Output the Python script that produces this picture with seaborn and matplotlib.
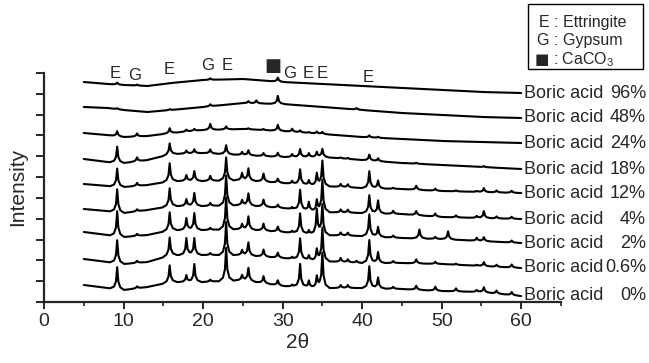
import numpy as np
import pandas as pd
import seaborn as sns
import matplotlib.pyplot as plt
from matplotlib.patches import Rectangle

# muestras (de arriba a abajo)
samples = ['96%', '48%', '24%', '18%', '12%', '4%', '2%', '0.6%', '0%']

bg_theta = [5, 8, 10, 13, 16, 20, 25, 30, 35, 40, 45, 50, 55, 60]
bg_96 = [220, 218, 217, 216, 219, 222, 223, 220, 218, 216, 214, 212, 210, 209]
bg_48 = [195, 194, 192, 190, 192, 195, 199, 198, 195, 192, 189, 187, 185, 184]
bg_24 = [169, 167, 165, 166, 169, 172, 173, 171, 168, 165, 163, 161, 160, 159]
bg_18 = [143, 140, 139, 142, 148, 149, 147, 145, 145, 142, 139, 137, 135, 133]
bg_12 = [118, 116, 115, 117, 121, 121, 122, 119, 116, 114, 113, 111, 110, 109]
bg_4 = [93, 91, 89, 92, 96, 96, 97, 94, 90, 89, 88, 85, 84, 83]
bg_2 = [70, 67, 65, 67, 72, 72, 73, 70, 67, 66, 64, 63, 61, 59]
bg_06 = [43, 40, 38, 40, 47, 47, 47, 44, 41, 39, 39, 38, 36, 34]
bg_0 = [17, 14, 12, 15, 20, 20, 22, 16, 14, 14, 13, 11, 10, 6]

# posiciones de picos y alturas sobre el fondo
peak_theta = [9.2, 11.7, 15.8, 17.9, 18.9, 20.9, 22.9, 24.9, 25.7, 26.7, 27.6,
              29.4, 31.2, 32.2, 33.3, 34.3, 35.0, 37.3, 38.2, 39.3, 40.9, 42.0,
              43.9, 46.8, 47.2, 49.2, 50.8, 51.8, 54.4, 55.3, 56.9, 58.8]
pk_96 = [2, 1, 0, 0, 0, 1.5, 0, 0, 0, 0, 0, 4, 0, 0, 0, 0, 0, 0, 0, 0, 0, 0,
         0, 0, 0, 0, 0, 0, 0, 0, 0, 0]
pk_48 = [1, 0, 1, 0, 0, 2, 0, 0, 2, 3, 0, 8, 0, 0, 0, 0, 0, 0, 0, 1.5, 0, 0,
         0, 0, 0, 0, 0, 0, 0, 0, 0, 0]
pk_24 = [5, 3, 5, 2, 2, 6, 3, 0, 1, 0, 1, 6, 3, 2, 1, 2, 2, 0, 0, 0, 2, 1,
         0, 0, 0, 0, 0, 0, 0, 0, 0, 0]
pk_18 = [16, 4, 11, 3, 4, 4, 9, 3, 5, 0, 3, 4, 3, 8, 4, 5, 8, 1, 1, 0, 6, 3,
         0, 1, 0, 0, 0, 0, 0, 1, 0, 0]
pk_12 = [18, 3, 18, 6, 10, 5, 23, 7, 12, 0, 8, 4, 3, 15, 5, 12, 25, 3, 3, 0, 17, 8,
         1, 4, 0, 2, 0, 1, 1, 4, 2, 2]
pk_4 = [23, 2, 18, 7, 13, 3, 30, 5, 12, 0, 7, 3, 2, 20, 9, 11, 32, 3, 3, 0, 18, 13,
        3, 4, 0, 3, 0, 2, 2, 7, 2, 2]
pk_2 = [25, 2, 18, 12, 17, 2, 32, 5, 13, 0, 7, 5, 2, 20, 4, 25, 30, 3, 3, 0, 22, 10,
        2, 0, 9, 2, 8, 0, 3, 4, 0, 2]
pk_06 = [23, 2, 18, 17, 17, 2, 33, 5, 13, 0, 7, 5, 2, 21, 5, 11, 33, 4, 3, 2, 23, 11,
         2, 4, 0, 2, 0, 1, 1, 4, 2, 3]
pk_0 = [22, 2, 17, 7, 18, 2, 33, 5, 13, 0, 7, 5, 2, 23, 7, 11, 35, 3, 3, 0, 22, 11,
        2, 4, 0, 4, 0, 3, 2, 5, 3, 3]

backgrounds = [bg_96, bg_48, bg_24, bg_18, bg_12, bg_4, bg_2, bg_06, bg_0]
peaks = [pk_96, pk_48, pk_24, pk_18, pk_12, pk_4, pk_2, pk_06, pk_0]

# etiquetas de fases
phase_labels = ['E', 'G', 'E', 'G', 'E', '\u25a0', 'G', 'E', 'E', 'E']
phase_theta = [8.9, 11.4, 15.7, 20.6, 23.0, 28.8, 30.9, 33.2, 35.0, 40.8]
phase_level = [228, 226, 233, 236, 236, 236, 229, 229, 229, 224]

# forma de pico (punta aguda, pie ancho)
shape_dx = [-0.9, -0.4, -0.15, 0.0, 0.15, 0.4, 0.9]
shape_fr = [0.0, 0.1, 0.35, 1.0, 0.35, 0.1, 0.0]

grid = np.array(sorted(set(bg_theta) | {round(p + d, 2) for p in peak_theta for d in shape_dx}))
grid = grid[(grid >= 5) & (grid <= 60)]

rows = []
for name, bg, pk in zip(samples, backgrounds, peaks):
    y = np.interp(grid, bg_theta, bg)
    for p, h in zip(peak_theta, pk):
        if h > 0:
            y = y + np.interp(grid, [p + d for d in shape_dx], [h * f for f in shape_fr],
                              left=0, right=0)
    rows.append(pd.DataFrame({'2theta': grid, 'intensity': y, 'sample': name}))
df = pd.concat(rows, ignore_index=True)

sns.set_style('ticks')
plt.rcParams['font.family'] = ['Liberation Sans', 'DejaVu Sans']
plt.rcParams['mathtext.fontset'] = 'custom'
plt.rcParams['mathtext.rm'] = 'Liberation Sans'

fig = plt.figure(figsize=(6.49, 3.63), dpi=100)
ax = fig.add_axes([44 / 649, 61 / 363, 517 / 649, 229 / 363])

sns.lineplot(data=df, x='2theta', y='intensity', units='sample', estimator=None,
             color='black', lw=1.5, sort=False, legend=False, ax=ax)

ax.set_xlim(0, 65)
ax.set_ylim(0, 229)
ax.set_xticks(range(0, 61, 10))
ax.set_xticks(range(5, 66, 10), minor=True)
ax.set_yticks(np.linspace(0, 229, 12))
ax.set_yticklabels([])
ax.tick_params(axis='x', labelsize=14, length=5, width=1.4, pad=3)
ax.tick_params(axis='x', which='minor', length=3, width=1.2)
ax.tick_params(axis='y', length=6, width=1.4)
for s in ['top', 'right']:
    ax.spines[s].set_visible(False)
for s in ['left', 'bottom']:
    ax.spines[s].set_linewidth(1.6)
ax.set_xlabel('')
ax.set_ylabel('')

fig.text(18 / 649, 1 - 187 / 363, 'Intensity', rotation=90, fontsize=15,
         ha='center', va='center')
fig.text(298 / 649, 1 - 343 / 363, '2\u03b8', fontsize=15, ha='center', va='center')

# etiquetas de muestra a la derecha
for name, bg in zip(samples, backgrounds):
    ax.text(60.3, bg[-1], 'Boric acid', fontsize=13, ha='left', va='center')
    ax.text(75.7, bg[-1], name, fontsize=13, ha='right', va='center', clip_on=False)

for lab, t, lv in zip(phase_labels, phase_theta, phase_level):
    if lab == '\u25a0':
        ax.text(t, lv, lab, fontsize=13, ha='center', va='center', family='DejaVu Sans')
    else:
        ax.text(t, lv, lab, fontsize=12, ha='center', va='center')

# leyenda de fases
fig.patches.append(Rectangle((528 / 649, 1 - 69 / 363), 115 / 649, 65 / 363,
                             transform=fig.transFigure, fill=False, lw=1.0,
                             edgecolor='black'))
fig.text(539 / 649, 1 - 22 / 363, 'E : Ettringite', fontsize=11.5, ha='left', va='center')
fig.text(537 / 649, 1 - 41 / 363, 'G : Gypsum', fontsize=11.5, ha='left', va='center')
fig.text(535 / 649, 1 - 60 / 363, '\u25a0', fontsize=11, ha='left', va='center',
         family='DejaVu Sans')
fig.text(553 / 649, 1 - 60 / 363, ': CaCO$_\\mathregular{3}$', fontsize=11.5,
         ha='left', va='center')

fig.savefig('out.png', dpi=100)
